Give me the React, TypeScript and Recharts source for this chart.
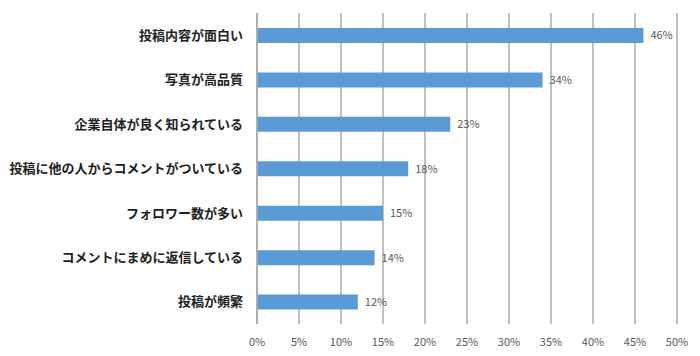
import React from 'react';
import { BarChart, Bar, XAxis, YAxis, CartesianGrid, LabelList } from 'recharts';

const categories = [
  '投稿内容が面白い',
  '写真が高品質',
  '企業自体が良く知られている',
  '投稿に他の人からコメントがついている',
  'フォロワー数が多い',
  'コメントにまめに返信している',
  '投稿が頻繁',
];
const values = [46, 34, 23, 18, 15, 14, 12];
const xTicks = [0, 5, 10, 15, 20, 25, 30, 35, 40, 45, 50];

const data = categories.map((name, i) => ({ name, value: values[i] }));

const FONT = '"Noto Sans CJK JP", "Noto Sans", sans-serif';

export default function App() {
  return (
    <div style={{ position: 'absolute', left: 0, top: 0, background: '#fff' }}>
      <BarChart
        width={700}
        height={356}
        data={data}
        layout="vertical"
        margin={{ top: 13, right: 23, bottom: 0, left: 0 }}
        barCategoryGap={0}
      >
        <CartesianGrid horizontal={false} vertical={true} stroke="#ABABAB" strokeWidth={1.5} />
        <XAxis
          type="number"
          domain={[0, 50]}
          ticks={xTicks}
          tickFormatter={(v: number) => `${v}%`}
          axisLine={false}
          tickLine={false}
          height={32}
          tickMargin={8}
          tick={{ fill: '#595959', fontSize: 11, fontFamily: FONT }}
          interval={0}
        />
        <YAxis
          type="category"
          dataKey="name"
          width={257}
          axisLine={{ stroke: '#ABABAB', strokeWidth: 1.5 }}
          tickLine={false}
          tickMargin={8}
          tick={{ fill: '#222222', fontSize: 13, fontWeight: 'bold', fontFamily: FONT }}
          interval={0}
        />
        <Bar dataKey="value" fill="#5B9BD5" barSize={15} isAnimationActive={false}>
          <LabelList
            dataKey="value"
            position="right"
            offset={7}
            formatter={(v: number) => `${v}%`}
            style={{ fill: '#595959', fontSize: 11, fontFamily: FONT }}
          />
        </Bar>
      </BarChart>
    </div>
  );
}
